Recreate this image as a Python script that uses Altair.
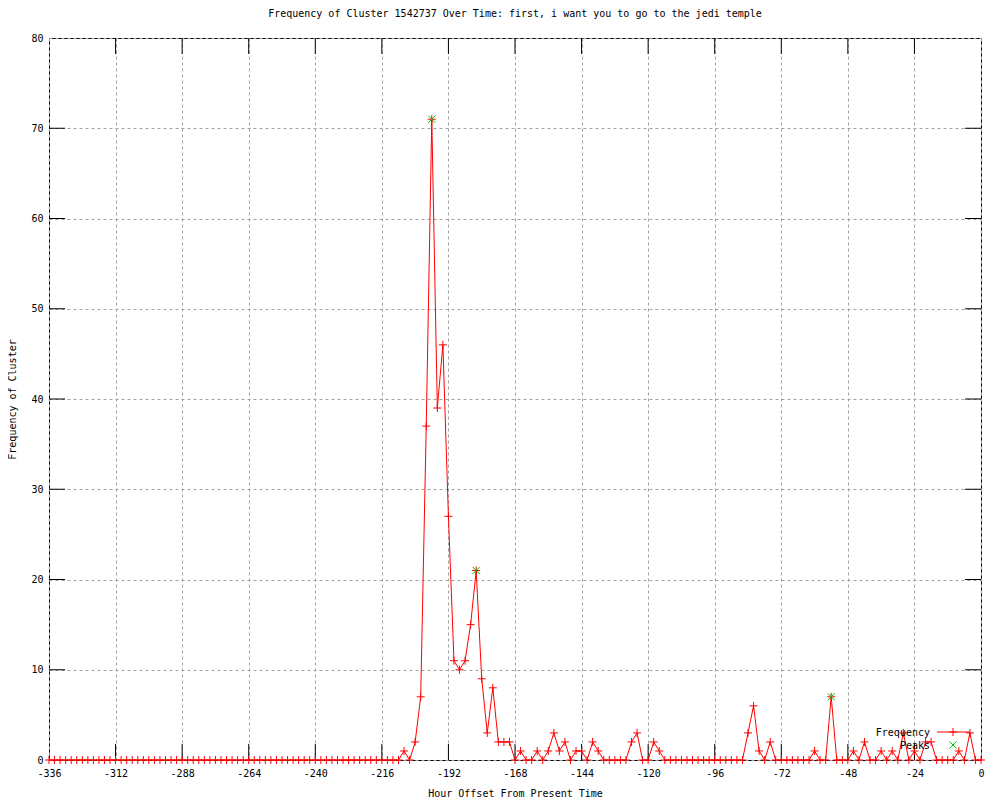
import altair as alt
import pandas as pd

FONT = "DejaVu Sans Mono"

title_text = "Frequency of Cluster 1542737 Over Time: first, i want you to go to the jedi temple"
x_title = "Hour Offset From Present Time"
y_title = "Frequency of Cluster"

# hour offsets, every 2 hours from -336 to 0
hours = list(range(-336, 1, 2))
frequency = [
    0, 0, 0, 0, 0, 0, 0, 0, 0, 0, 0, 0,        # -336 .. -314
    0, 0, 0, 0, 0, 0, 0, 0, 0, 0, 0, 0,        # -312 .. -290
    0, 0, 0, 0, 0, 0, 0, 0, 0, 0, 0, 0,        # -288 .. -266
    0, 0, 0, 0, 0, 0, 0, 0, 0, 0, 0, 0,        # -264 .. -242
    0, 0, 0, 0, 0, 0, 0, 0, 0, 0, 0, 0,        # -240 .. -218
    0, 0, 0, 0, 1, 0, 2, 7, 37, 71, 39, 46,    # -216 .. -194
    27, 11, 10, 11, 15, 21, 9, 3, 8, 2, 2, 2,  # -192 .. -170
    0, 1, 0, 0, 1, 0, 1, 3, 1, 2, 0, 1,        # -168 .. -146
    1, 0, 2, 1, 0, 0, 0, 0, 0, 2, 3, 0,        # -144 .. -122
    0, 2, 1, 0, 0, 0, 0, 0, 0, 0, 0, 0,        # -120 .. -98
    0, 0, 0, 0, 0, 0, 3, 6, 1, 0, 2, 0,        # -96 .. -74
    0, 0, 0, 0, 0, 0, 1, 0, 0, 7, 0, 0,        # -72 .. -50
    0, 1, 0, 2, 0, 0, 1, 0, 1, 0, 3, 0,        # -48 .. -26
    1, 0, 2, 2, 0, 0, 0, 0, 1, 0, 3, 0,        # -24 .. -2
    0,                                         # 0
]

peak_hours = [-198, -182, -54]
peak_values = [71, 21, 7]

x_tick_values = list(range(-336, 1, 24))
y_tick_values = list(range(0, 81, 10))

W, H = 932, 722
PLUS = "M-1,0H1M0,-1V1"
CROSS = "M-1,-1L1,1M1,-1L-1,1"

df = pd.DataFrame({"hour": hours, "freq": frequency})
peaks = pd.DataFrame({"hour": peak_hours, "freq": peak_values})
xt = pd.DataFrame({"hour": x_tick_values[1:-1]})
yt = pd.DataFrame({"freq": y_tick_values[1:-1]})
one = pd.DataFrame({"k": [0]})

xs = alt.Scale(domain=[-336, 0], nice=False, zero=False)
ys = alt.Scale(domain=[0, 80], nice=False, zero=False)

x_axis = alt.Axis(values=x_tick_values, title=x_title, grid=True, ticks=False,
                  domain=False, labelExpr="toString(datum.value)", labelPadding=8,
                  titlePadding=10, labelFlush=False, labelOverlap=False)
y_axis = alt.Axis(values=y_tick_values, title=y_title, grid=True, ticks=False,
                  domain=False, labelPadding=6, titlePadding=13,
                  labelFlush=False, labelOverlap=False)

line = alt.Chart(df).mark_line(color="#ff0000", strokeWidth=1).encode(
    x=alt.X("hour:Q", scale=xs, axis=x_axis),
    y=alt.Y("freq:Q", scale=ys, axis=y_axis),
)
pts = alt.Chart(df).mark_point(shape=PLUS, size=64, filled=False, color="#ff0000",
                               strokeWidth=1, opacity=1).encode(
    x="hour:Q", y="freq:Q")
pk = alt.Chart(peaks).mark_point(shape=CROSS, size=49, filled=False, color="#00c000",
                                 strokeWidth=1, opacity=1).encode(
    x="hour:Q", y="freq:Q")

tick_style = dict(color="black", strokeWidth=1)
xb = alt.Chart(xt).mark_rule(**tick_style).encode(x="hour:Q", y=alt.value(H), y2=alt.value(H - 16))
xtop = alt.Chart(xt).mark_rule(**tick_style).encode(x="hour:Q", y=alt.value(0), y2=alt.value(16))
yl = alt.Chart(yt).mark_rule(**tick_style).encode(y="freq:Q", x=alt.value(0), x2=alt.value(16))
yr = alt.Chart(yt).mark_rule(**tick_style).encode(y="freq:Q", x=alt.value(W), x2=alt.value(W - 16))

txt = dict(align="right", baseline="middle", font=FONT, fontSize=10, color="black")
leg1 = alt.Chart(one).mark_text(**txt).encode(x=alt.value(881), y=alt.value(695),
                                              text=alt.value("Frequency"))
leg1l = alt.Chart(one).mark_rule(color="#ff0000", strokeWidth=1).encode(
    x=alt.value(888), x2=alt.value(921), y=alt.value(694))
leg1p = alt.Chart(one).mark_point(shape=PLUS, size=64, filled=False, color="#ff0000",
                                  strokeWidth=1, opacity=1).encode(
    x=alt.value(904), y=alt.value(694))
leg2 = alt.Chart(one).mark_text(**txt).encode(x=alt.value(881), y=alt.value(708),
                                              text=alt.value("Peaks"))
leg2p = alt.Chart(one).mark_point(shape=CROSS, size=49, filled=False, color="#00c000",
                                  strokeWidth=1, opacity=1).encode(
    x=alt.value(904), y=alt.value(707))

chart = alt.layer(line, xb, xtop, yl, yr, pts, pk, leg1, leg1l, leg1p, leg2, leg2p).properties(
    width=W, height=H,
    title=alt.TitleParams(title_text, font=FONT, fontSize=10, fontWeight="normal",
                          color="black", offset=14, anchor="middle"),
    autosize=alt.AutoSizeParams(type="none"),
    padding={"left": 41, "top": 30, "right": 11, "bottom": 38},
    background="white",
).configure_view(stroke="black", strokeWidth=1).configure_axis(
    gridColor="#a0a0a0", gridDash=[3, 3], gridOpacity=1, gridWidth=1,
    labelFont=FONT, labelFontSize=10, labelColor="black",
    titleFont=FONT, titleFontSize=10, titleFontWeight="normal", titleColor="black",
)

chart.save("out.html", embed_options={"renderer": "svg", "actions": False})
